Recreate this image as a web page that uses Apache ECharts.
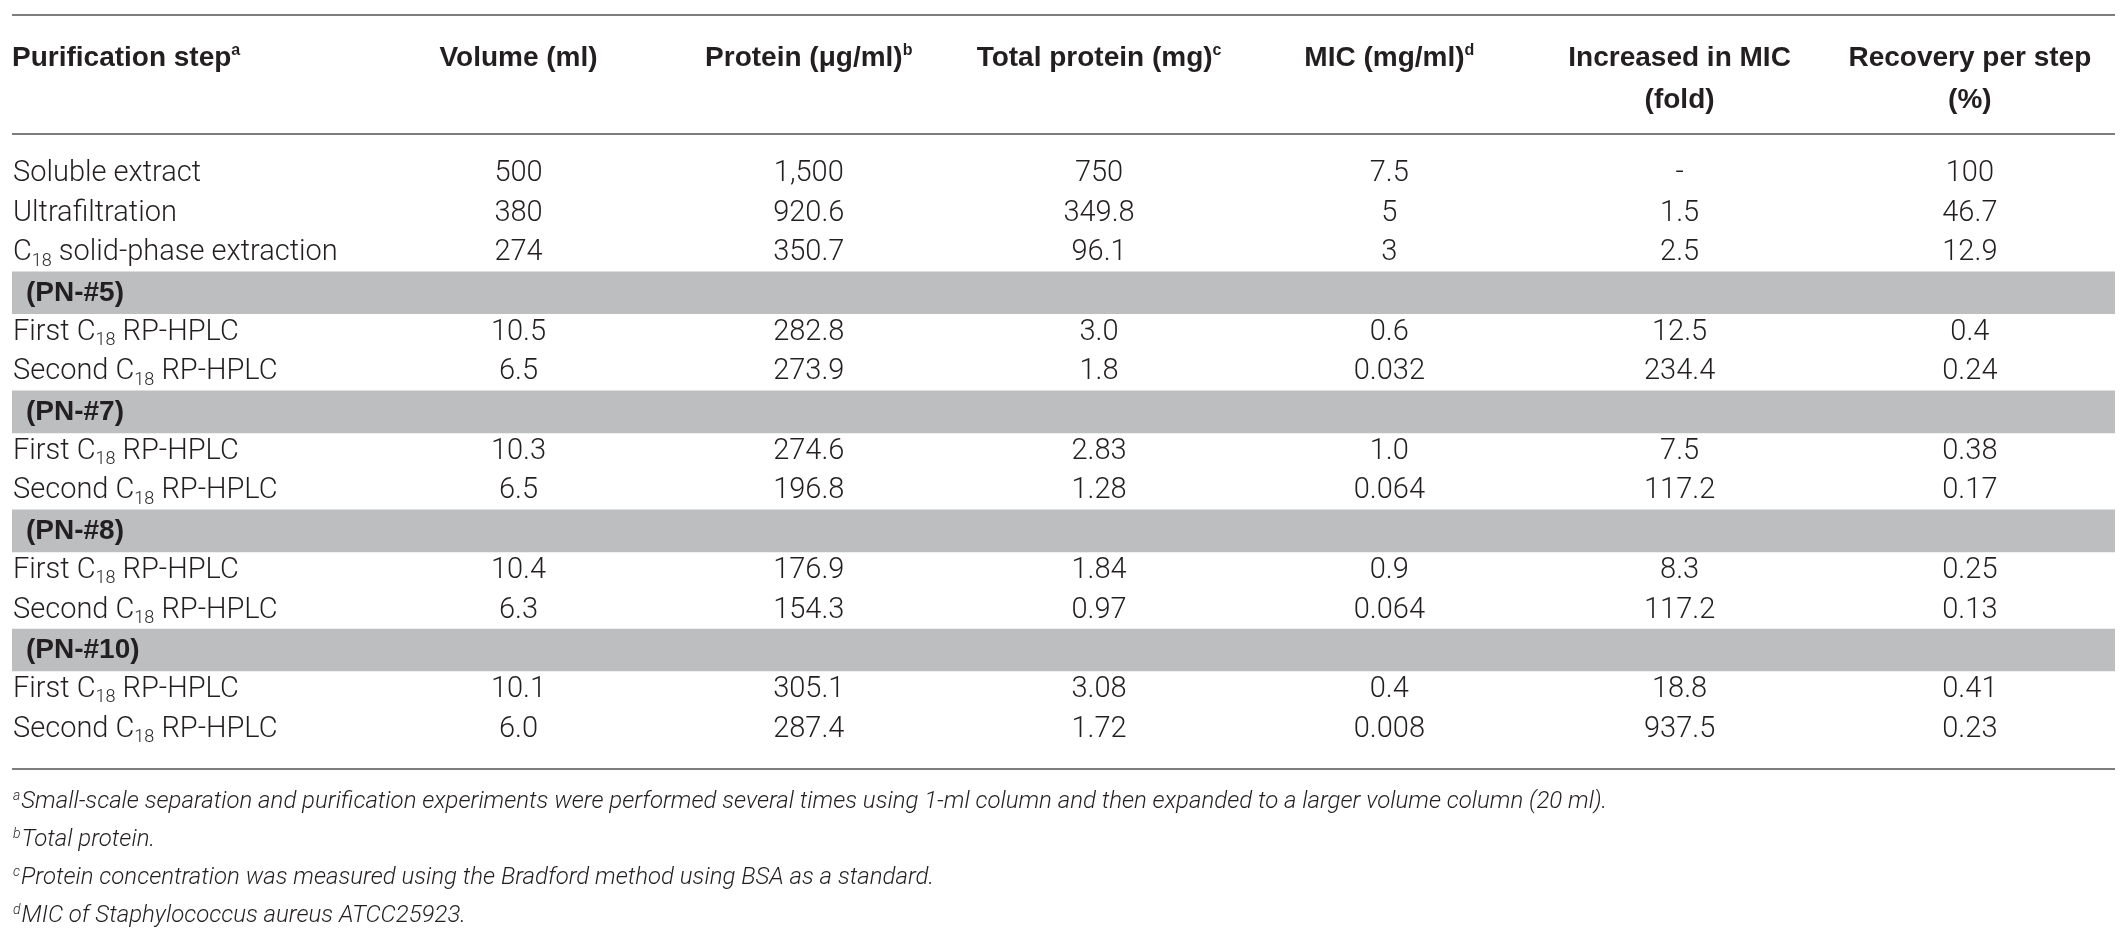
<!DOCTYPE html>
<html><head><meta charset="utf-8">
<script src="https://cdn.jsdelivr.net/npm/echarts@6/dist/echarts.min.js"></script>
<style>html,body{margin:0;padding:0;background:#fff}#c{width:2128px;height:943px}</style>
</head><body><div id="c"></div>
<script>
// ---------- data ----------
const stepHeader = 'Purification step';
const stepHeaderNote = 'a';
const steps = [
  'Soluble extract', 'Ultrafiltration', 'C18 solid-phase extraction',
  '(PN-#5)', 'First C18 RP-HPLC', 'Second C18 RP-HPLC',
  '(PN-#7)', 'First C18 RP-HPLC', 'Second C18 RP-HPLC',
  '(PN-#8)', 'First C18 RP-HPLC', 'Second C18 RP-HPLC',
  '(PN-#10)', 'First C18 RP-HPLC', 'Second C18 RP-HPLC'
];
const columnHeaders = ['Volume (ml)', 'Protein (\u03bcg/ml)', 'Total protein (mg)', 'MIC (mg/ml)', 'Increased in MIC\n(fold)', 'Recovery per step\n(%)'];
const columnHeaderNotes = ['', 'b', 'c', 'd', '', ''];
const volume       = ['500', '380', '274', null, '10.5', '6.5', null, '10.3', '6.5', null, '10.4', '6.3', null, '10.1', '6.0'];
const protein      = ['1,500', '920.6', '350.7', null, '282.8', '273.9', null, '274.6', '196.8', null, '176.9', '154.3', null, '305.1', '287.4'];
const totalProtein = ['750', '349.8', '96.1', null, '3.0', '1.8', null, '2.83', '1.28', null, '1.84', '0.97', null, '3.08', '1.72'];
const mic          = ['7.5', '5', '3', null, '0.6', '0.032', null, '1.0', '0.064', null, '0.9', '0.064', null, '0.4', '0.008'];
const foldIncrease = ['-', '1.5', '2.5', null, '12.5', '234.4', null, '7.5', '117.2', null, '8.3', '117.2', null, '18.8', '937.5'];
const recovery     = ['100', '46.7', '12.9', null, '0.4', '0.24', null, '0.38', '0.17', null, '0.25', '0.13', null, '0.41', '0.23'];
const footnoteMarks = ['a', 'b', 'c', 'd'];
const footnotes = [
  'Small-scale separation and purification experiments were performed several times using 1-ml column and then expanded to a larger volume column (20 ml).',
  'Total protein.',
  'Protein concentration was measured using the Bradford method using BSA as a standard.',
  'MIC of Staphylococcus aureus ATCC25923.'
];

// ---------- layout / style ----------
const columns = [volume, protein, totalProtein, mic, foldIncrease, recovery];
const X_MIN = -0.745, X_MAX = 6.5;
const Y_MIN = -4, Y_MAX = 15;
const HEAD1 = -2.915, HEAD2 = -1.857;
const TEXT = '#231f20';
const RULE = '#7d7d7d';
const BAND = '#bcbec0';
const BODY_FONT = 'Roboto, "Liberation Sans", Arial, sans-serif';
const HEAD_FONT = '"Liberation Sans", Arial, sans-serif';
const isGroup = s => /^\(PN-/.test(s);
function subify(s) {
  return s.split(/(C18)/).filter(p => p !== '').map(p => p === 'C18' ? '{n|C}{sub|18}' : '{n|' + p + '}').join('');
}

const RICH = {
  n:   { fontFamily: BODY_FONT, fontWeight: 300, fontSize: 29, fill: TEXT },
  sub: { fontFamily: BODY_FONT, fontWeight: 300, fontSize: 18, fill: TEXT, padding: [16, 0, 0, 0] },
  h:   { fontFamily: HEAD_FONT, fontWeight: 'bold', fontSize: 28, fill: TEXT },
  hs:  { fontFamily: HEAD_FONT, fontWeight: 'bold', fontSize: 16, fill: TEXT, padding: [0, 0, 14, 0] },
  g:   { fontFamily: HEAD_FONT, fontWeight: 'bold', fontSize: 28, fill: TEXT }
};

const cells = [];
cells.push({ x: X_MIN, y: HEAD1, text: '{h|' + stepHeader + '}{hs|' + stepHeaderNote + '}', align: 'left', indent: 0 });
columnHeaders.forEach((h, i) => {
  h.split('\n').forEach((ln, k) => {
    const note = (k === 0 && columnHeaderNotes[i]) ? '{hs|' + columnHeaderNotes[i] + '}' : '';
    cells.push({ x: i + 1, y: k === 0 ? HEAD1 : HEAD2, text: '{h|' + ln + '}' + note, align: 'center', indent: 0 });
  });
});
steps.forEach((s, r) => {
  cells.push({ x: X_MIN, y: r, text: isGroup(s) ? '{g|' + s + '}' : subify(s), align: 'left', indent: isGroup(s) ? 14 : 1 });
  columns.forEach((col, c) => {
    if (col[r] != null) cells.push({ x: c + 1, y: r, text: '{n|' + col[r] + '}', align: 'center', indent: 0 });
  });
});

const bands = [];
steps.forEach((s, r) => { if (isGroup(s)) bands.push([{ yAxis: r - 0.537 }, { yAxis: r + 0.537 }]); });

const chart = echarts.init(document.getElementById('c'), null, { renderer: 'canvas' });
chart.setOption({
  animation: false,
  backgroundColor: '#fff',
  title: {
    left: 13, top: 783, padding: 0,
    text: footnotes.map((f, i) => '{fs|' + footnoteMarks[i] + '}{fi|' + f + '}').join('\n'),
    textStyle: {
      lineHeight: 38,
      rich: {
        fs: { fontFamily: BODY_FONT, fontWeight: 300, fontStyle: 'italic', fontSize: 14, color: TEXT, padding: [0, 1, 12, 0], lineHeight: 38 },
        fi: { fontFamily: BODY_FONT, fontWeight: 300, fontStyle: 'italic', fontSize: 24, color: TEXT, lineHeight: 38 }
      }
    }
  },
  grid: { left: 12, right: 13, top: 15, bottom: 174, containLabel: false },
  xAxis: { type: 'value', min: X_MIN, max: X_MAX, show: false },
  yAxis: { type: 'value', min: Y_MIN, max: Y_MAX, inverse: true, show: false },
  series: [
    {
      type: 'line', data: [], z: 1, silent: true,
      markArea: { silent: true, itemStyle: { color: BAND, opacity: 1 }, data: bands },
      markLine: {
        silent: true, symbol: ['none', 'none'], label: { show: false },
        lineStyle: { color: RULE, width: 2, type: 'solid' },
        data: [{ yAxis: Y_MIN }, { yAxis: -1 }, { yAxis: Y_MAX }]
      }
    },
    {
      type: 'custom', z: 5, silent: true,
      data: cells.map(c => [c.x, c.y]),
      renderItem: function (params, api) {
        const cell = cells[params.dataIndex];
        const p = api.coord([api.value(0), api.value(1)]);
        return {
          type: 'text', x: p[0] + cell.indent, y: p[1],
          style: {
            text: cell.text, rich: RICH, align: cell.align, verticalAlign: 'middle',
            fill: TEXT, fontFamily: BODY_FONT, fontSize: 29
          }
        };
      }
    }
  ]
});
</script>
</body></html>
